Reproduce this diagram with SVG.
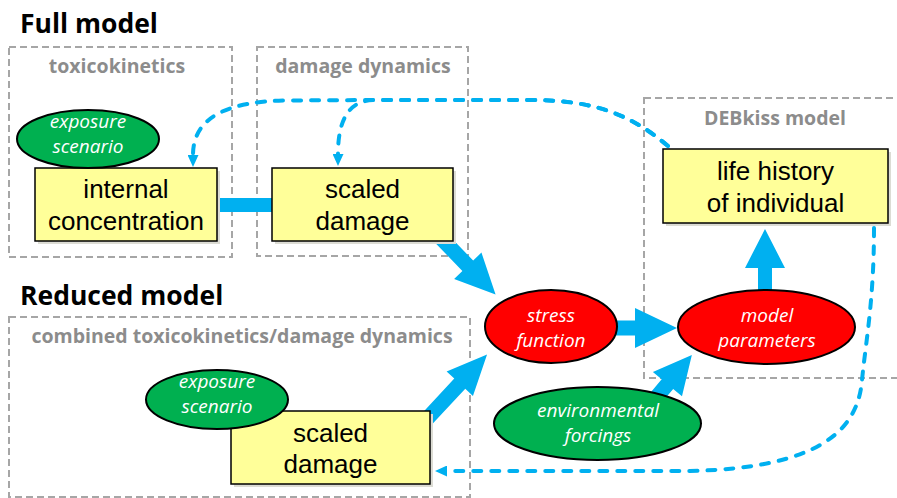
<svg xmlns="http://www.w3.org/2000/svg" width="897" height="498" viewBox="0 0 897 498">
<defs>
<style>
.title{font-family:"Open Sans","Liberation Sans",sans-serif;font-weight:bold;font-size:26.5px;fill:#000}
.glabel{font-family:"Open Sans","Liberation Sans",sans-serif;font-weight:bold;font-size:19.5px;fill:#8c8c8c;text-anchor:middle}
.frame{fill:none;stroke:#a6a6a6;stroke-width:2;stroke-dasharray:7 4}
.box{fill:#ffff99;stroke:#000;stroke-width:1.5}
.shadow{fill:#dcdcd4}
.btxt{font-family:"Liberation Sans",Arial,sans-serif;font-size:26px;fill:#000;text-anchor:middle}
.green{fill:#00b050;stroke:#000;stroke-width:2}
.red{fill:#ff0000;stroke:#000;stroke-width:2}
.etxt{font-family:"Open Sans","Liberation Sans",sans-serif;font-style:italic;font-size:19px;fill:#fff;text-anchor:middle}
.block{fill:#00b0f0}
.dash{fill:none;stroke:#00b0f0;stroke-width:4;stroke-dasharray:8 10;stroke-linecap:round}
</style>
<marker id="ah" viewBox="0 0 12 11" markerWidth="12" markerHeight="11" refX="0" refY="5.5" orient="auto" markerUnits="userSpaceOnUse">
<path d="M0,0 L12,5.5 L0,11 Z" fill="#00b0f0"/>
</marker>
</defs>
<rect width="897" height="498" fill="#fff"/>

<g id="frames">
<rect class="frame" x="9" y="47" width="223" height="210"/>
<rect class="frame" x="257" y="47" width="211" height="209"/>
<rect class="frame" x="644" y="98" width="262" height="280"/>
<rect class="frame" x="9" y="317" width="461" height="180"/>
<text class="title" x="20" y="33">Full model</text>
<text class="title" x="20" y="305">Reduced model</text>
<text class="glabel" x="117" y="73">toxicokinetics</text>
<text class="glabel" x="363" y="73">damage dynamics</text>
<text class="glabel" x="775" y="125">DEBkiss model</text>
<text class="glabel" x="242" y="343">combined toxicokinetics/damage dynamics</text>
</g>

<g id="connectors">
<rect class="block" x="218" y="198" width="56" height="14"/>
<path class="block" transform="translate(440,237) rotate(46)" d="M0,-7.5 L40,-7.5 L40,-19 L80,0 L40,19 L40,7.5 L0,7.5 Z"/>
<path class="block" transform="translate(610,328)" d="M0,-7.5 L25,-7.5 L25,-20 L67,0 L25,20 L25,7.5 L0,7.5 Z"/>
<path class="block" transform="translate(765,300) rotate(-90)" d="M0,-7 L32,-7 L32,-20 L71,0 L32,20 L32,7 L0,7 Z"/>
<path class="block" transform="translate(425,421) rotate(-47)" d="M0,-7.5 L51,-7.5 L51,-18 L91,0 L51,18 L51,7.5 L0,7.5 Z"/>
<path class="block" transform="translate(652,402.5) rotate(-50)" d="M0,-7.5 L24,-7.5 L24,-19 L62,0 L24,19 L24,7.5 L0,7.5 Z"/>
<path class="dash" marker-end="url(#ah)" d="M668,146 C628,112 590,100 530,100 L375,100 C350,100 338,118 338,154"/>
<path class="dash" marker-end="url(#ah)" d="M668,146 C628,112 590,100 530,100 L375,100 L285,100.5 C228,101.5 193,117 193,155"/>
<path class="dash" marker-end="url(#ah)" d="M874,228 C874,300 866,340 862,380 C858,430 820,468 690,471 L447,471"/>
</g>

<g id="internal-concentration">
<rect class="shadow" x="38" y="171" width="182" height="73"/>
<rect class="box" x="35" y="168" width="182" height="73"/>
<text class="btxt" x="126" y="198">internal</text>
<text class="btxt" x="126" y="230">concentration</text>
</g>
<g id="exposure-full">
<ellipse class="green" cx="88" cy="139" rx="71" ry="29"/>
<text class="etxt" x="88" y="128">exposure</text>
<text class="etxt" x="88" y="153">scenario</text>
</g>
<g id="scaled-damage-full">
<rect class="shadow" x="275" y="171" width="181" height="73"/>
<rect class="box" x="272" y="168" width="181" height="73"/>
<text class="btxt" x="362.5" y="198">scaled</text>
<text class="btxt" x="362.5" y="230">damage</text>
</g>
<g id="life-history">
<rect class="shadow" x="666" y="152" width="225" height="74"/>
<rect class="box" x="663" y="149" width="225" height="74"/>
<text class="btxt" x="775.5" y="180">life history</text>
<text class="btxt" x="775.5" y="212">of individual</text>
</g>
<g id="stress-function">
<ellipse class="red" cx="551" cy="326.5" rx="66" ry="36.5"/>
<text class="etxt" x="551" y="322">stress</text>
<text class="etxt" x="551" y="347">function</text>
</g>
<g id="model-parameters">
<ellipse class="red" cx="766.5" cy="327" rx="88.5" ry="37"/>
<text class="etxt" x="767" y="322">model</text>
<text class="etxt" x="767" y="347">parameters</text>
</g>
<g id="environmental-forcings">
<ellipse class="green" cx="597.5" cy="423.5" rx="103.5" ry="36.5"/>
<text class="etxt" x="598" y="417">environmental</text>
<text class="etxt" x="598" y="442">forcings</text>
</g>
<g id="scaled-damage-reduced">
<rect class="shadow" x="234" y="414" width="199" height="73"/>
<rect class="box" x="231" y="411" width="199" height="73"/>
<text class="btxt" x="330.5" y="442">scaled</text>
<text class="btxt" x="330.5" y="473">damage</text>
</g>
<g id="exposure-reduced">
<ellipse class="green" cx="217" cy="399.5" rx="71" ry="29.5"/>
<text class="etxt" x="217" y="388">exposure</text>
<text class="etxt" x="217" y="413">scenario</text>
</g>
</svg>
